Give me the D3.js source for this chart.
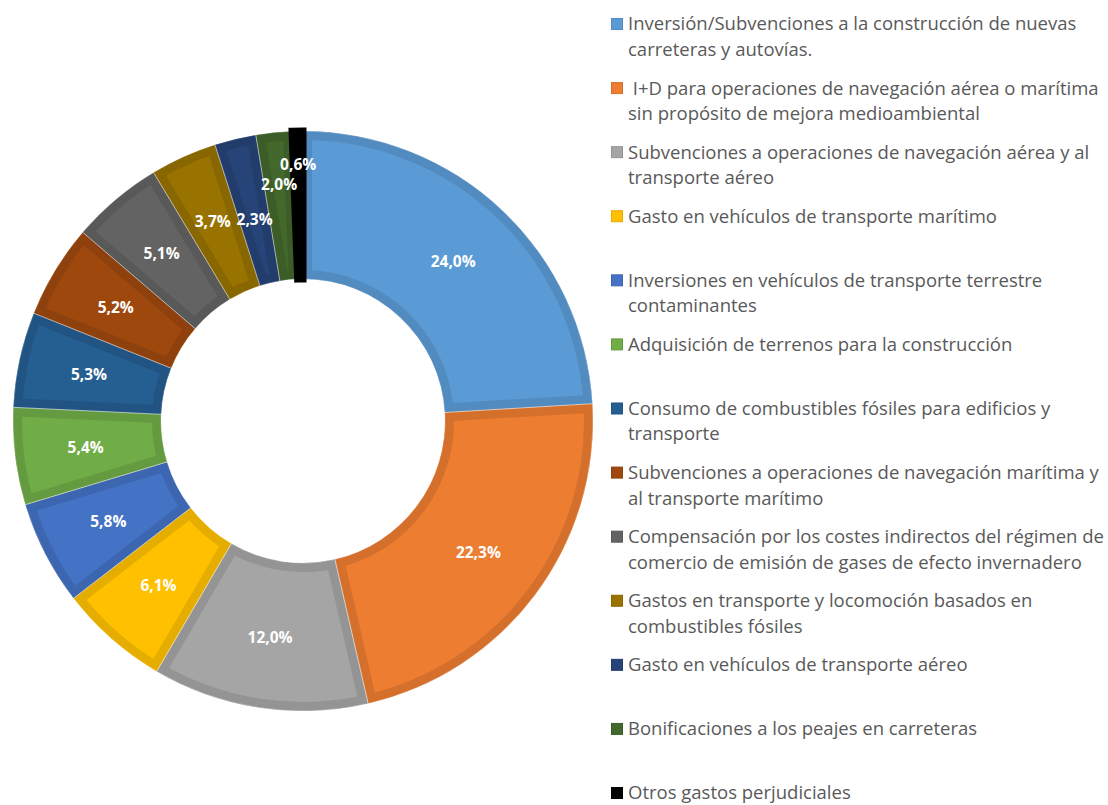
<!DOCTYPE html>
<html>
<head>
<meta charset="utf-8">
<script src="https://cdn.jsdelivr.net/npm/d3@7"></script>
<style>
  body { margin: 0; background: #fff; }
  svg { display: block; }
</style>
</head>
<body>
<div id="donut"></div>
<script>
// categorias (saltos de linea como en la leyenda original)
var categories = [
    "Inversión/Subvenciones a la construcción de nuevas\ncarreteras y autovías.",
    " I+D para operaciones de navegación aérea o marítima\nsin propósito de mejora medioambiental",
    "Subvenciones a operaciones de navegación aérea y al\ntransporte aéreo",
    "Gasto en vehículos de transporte marítimo",
    "Inversiones en vehículos de transporte terrestre\ncontaminantes",
    "Adquisición de terrenos para la construcción",
    "Consumo de combustibles fósiles para edificios y\ntransporte",
    "Subvenciones a operaciones de navegación marítima y\nal transporte marítimo",
    "Compensación por los costes indirectos del régimen de\ncomercio de emisión de gases de efecto invernadero",
    "Gastos en transporte y locomoción basados en\ncombustibles fósiles",
    "Gasto en vehículos de transporte aéreo",
    "Bonificaciones a los peajes en carreteras",
    "Otros gastos perjudiciales"
];

var values = [24.0, 22.3, 12.0, 6.1, 5.8, 5.4, 5.3, 5.2, 5.1, 3.7, 2.3, 2.0, 0.6];

var colors = ["#5B9BD5", "#ED7D31", "#A5A5A5", "#FFC000", "#4472C4", "#70AD47",
    "#255E91", "#9E480E", "#636363", "#997300", "#264478", "#43682B", "#000000"];

var width = 1108;
var height = 805;
var cx = 303;
var cy = 421;
var outerR = 290;
var innerR = 142;
var labelR = 219;
// Excel moved the labels of the thin slices to keep them apart
var labelRadius = { 10: 207, 11: 238, 12: 256 };

var data = values.map(function (v, i) {
    return { title: categories[i], value: v, color: colors[i], i: i };
});

var svg = d3.select('#donut')
    .append('svg')
    .attr('width', width)
    .attr('height', height);

var defs = svg.append('defs');

var g = svg.append('g')
    .attr('transform', 'translate(' + cx + ',' + cy + ')');

var arc = d3.arc()
    .innerRadius(innerR)
    .outerRadius(outerR);

var pie = d3.pie()
    .value(function (d) { return d.value; })
    .sort(null);

var arcs = pie(data);
var isBlack = function (d) { return d.data.color === '#000000'; };

arcs.forEach(function (d, i) {
    defs.append('clipPath')
        .attr('id', 'clip' + i)
        .append('path')
        .attr('d', arc(d));
});

g.selectAll('path.slice')
    .data(arcs.filter(function (d) { return !isBlack(d); }))
    .enter()
    .append('path')
    .attr('class', 'slice')
    .attr('d', arc)
    .attr('clip-path', function (d) { return 'url(#clip' + d.index + ')'; })
    .attr('fill', function (d) { return d.data.color; })
    .attr('stroke', function (d) { return d3.color(d.data.color).darker(0.3); })
    .attr('stroke-width', 18);

// thin separators
g.selectAll('path.sep')
    .data(arcs.filter(function (d) { return !isBlack(d); }))
    .enter()
    .append('path')
    .attr('class', 'sep')
    .attr('d', arc)
    .attr('fill', 'none')
    .attr('stroke', 'rgba(255,255,255,0.5)')
    .attr('stroke-width', 0.6);

// the black slice is drawn last, with its border outside (as Excel does)
g.selectAll('path.black')
    .data(arcs.filter(isBlack))
    .enter()
    .append('path')
    .attr('class', 'black')
    .attr('d', arc)
    .attr('fill', '#000')
    .attr('stroke', '#000')
    .attr('stroke-width', 7);

g.selectAll('text.pct')
    .data(arcs)
    .enter()
    .append('text')
    .attr('class', 'pct')
    .attr('transform', function (d, i) {
        var r = labelRadius[i] || labelR;
        var a = (d.startAngle + d.endAngle) / 2;
        return 'translate(' + (Math.sin(a) * r) + ',' + (-Math.cos(a) * r) + ')';
    })
    .attr('text-anchor', 'middle')
    .attr('dy', '0.35em')
    .style('font-family', '"Open Sans", Lato, sans-serif')
    .style('font-weight', 'bold')
    .style('font-size', '15.5px')
    .style('fill', '#fff')
    .text(function (d) { return d.data.value.toFixed(1).replace('.', ',') + '%'; });

// legend
var legendY = d3.scaleLinear().domain([0, categories.length - 1]).range([24, 793]);

var legend = svg.selectAll('.legend')
    .data(data)
    .enter()
    .append('g')
    .attr('class', 'legend')
    .attr('transform', function (d, i) { return 'translate(611,' + legendY(i) + ')'; });

legend.append('rect')
    .attr('x', 0.5)
    .attr('y', -5.5)
    .attr('width', 11)
    .attr('height', 11)
    .attr('fill', function (d) { return d.color; })
    .attr('stroke', function (d) { return d3.color(d.color).darker(0.3); })
    .attr('stroke-width', 1);

legend.append('text')
    .attr('x', 17)
    .style('font-family', '"Open Sans", Lato, sans-serif')
    .style('font-size', '18.5px')
    .style('fill', '#595959')
    .style('white-space', 'pre')
    .selectAll('tspan')
    .data(function (d) { return d.title.split('\n'); })
    .enter()
    .append('tspan')
    .attr('x', 17)
    .attr('y', function (d, i) { return i * 25.5; })
    .attr('dy', '0.35em')
    .text(function (d) { return d; });
</script>
</body>
</html>
